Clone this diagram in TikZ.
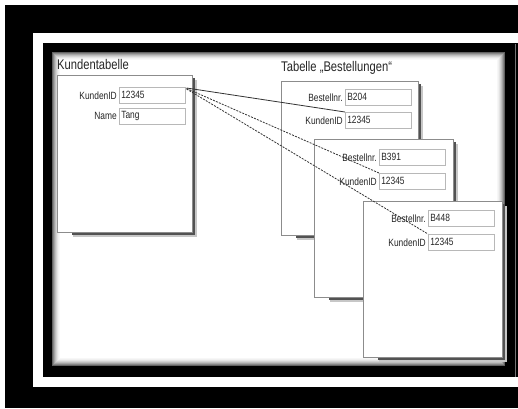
\documentclass[tikz,border=0pt]{standalone}
\usepackage{fontspec}
\newfontfamily\narrowsans[FakeStretch=0.8]{Liberation Sans}
\usetikzlibrary{calc}
\newcommand\boxshadow[1]{%
  \draw[shadowsoft] ($(#1.north east)+(3.5,5)$) -- ($(#1.south east)+(3.5,3.5)$) -- ($(#1.south west)+(16,3.5)$);
  \draw[shadowline] ($(#1.north east)+(1.2,3)$) -- ($(#1.south east)+(1.2,1.2)$) -- ($(#1.south west)+(15,1.2)$);
}
\begin{document}
\begin{tikzpicture}[x=1pt,y=-1pt,
  tablebox/.style={draw=black!45, line width=0.7pt, fill=white, anchor=north west, inner sep=0pt},
  field/.style={draw=black!28, line width=0.6pt, fill=white, anchor=north west, minimum height=16pt,
    text width=62pt, inner xsep=2pt, inner ysep=0pt, align=left,
    font=\narrowsans\fontsize{10.5}{12}\selectfont, text=black!85},
  lbl/.style={anchor=east, inner sep=0pt, font=\narrowsans\fontsize{10.5}{12}\selectfont, text=black!85},
  ttl/.style={anchor=base west, inner sep=0pt, font=\narrowsans\fontsize{14}{16}\selectfont, text=black!85},
  shadowline/.style={draw=black!68, line width=2.2pt},
  shadowsoft/.style={draw=black!22, line width=2pt},
  link/.style={draw=black!80, line width=0.8pt},
  dlink/.style={link, dash pattern=on 2pt off 1.2pt}]
\useasboundingbox (0,0) rectangle (518,408);
% frame
\fill[white] (0,0) rectangle (518,408);
\fill[black] (5,5) rectangle (518,408);
\fill[white] (33,33) rectangle (518,387);
\fill[black] (43,43) rectangle (518,377);
\draw[black!55, line width=1pt] (515.5,44) -- (515.5,377);
\fill[white] (52,52) rectangle (505,366);
\foreach \i/\c in {0/62,1/48,2/36,3/26,4/18,5/11,6/6,7/3}{
  \draw[black!\c, line width=1pt] (52.5+\i,52.5+\i) rectangle (504.5-\i,365.5-\i);
}
% Kundentabelle
\node[ttl] (t1) at (57,69) {Kundentabelle};
\node[tablebox, minimum width=135pt, minimum height=157pt] (kt) at (57,75) {};
\boxshadow{kt}
\node[field] (kt-f1) at (119,87) {12345};
\node[field] (kt-f2) at (119,108) {Tang};
\node[lbl] (kt-l1) at ($(kt-f1.west)+(-2,0)$) {KundenID};
\node[lbl] (kt-l2) at ($(kt-f2.west)+(-2,0)$) {Name};
% Bestellungen
\node[ttl] (t2) at (281,71) {Tabelle „Bestellungen“};
\node[tablebox, minimum width=137pt, minimum height=154pt] (b1) at (281,81) {};
\boxshadow{b1}
\node[field] (b1-f1) at (345,89) {B204};
\node[field] (b1-f2) at (345,112) {12345};
\node[lbl] (b1-l1) at ($(b1-f1.west)+(-2,0)$) {Bestellnr.};
\node[lbl] (b1-l2) at ($(b1-f2.west)+(-2,0)$) {KundenID};
\node[tablebox, minimum width=139pt, minimum height=158pt] (b2) at (314,139) {};
\boxshadow{b2}
\node[field] (b2-f1) at (379,149) {B391};
\node[field] (b2-f2) at (379,173) {12345};
\node[lbl] (b2-l1) at ($(b2-f1.west)+(-2,0)$) {Bestellnr.};
\node[lbl] (b2-l2) at ($(b2-f2.west)+(-2,0)$) {KundenID};
\node[tablebox, minimum width=139pt, minimum height=156pt] (b3) at (363,201) {};
\boxshadow{b3}
\node[field] (b3-f1) at (428,210) {B448};
\node[field] (b3-f2) at (428,234) {12345};
\node[lbl] (b3-l1) at ($(b3-f1.west)+(-2,0)$) {Bestellnr.};
\node[lbl] (b3-l2) at ($(b3-f2.west)+(-2,0)$) {KundenID};
% links
\draw[link] ($(kt-f1.north east)+(1,1)$) -- (b1-f2.north west);
\draw[dlink] ($(kt-f1.north east)+(1,1.5)$) -- (b2-f2.north west);
\draw[dlink] ($(kt-f1.north east)+(1,2)$) -- (b3-f2.north west);
\end{tikzpicture}
\end{document}
